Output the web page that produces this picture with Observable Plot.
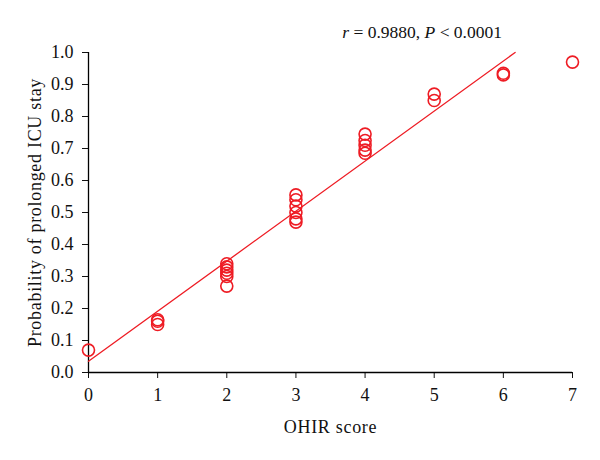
<!DOCTYPE html>
<html>
<head>
<meta charset="utf-8">
<script src="https://cdn.jsdelivr.net/npm/d3@7"></script>
<script src="https://cdn.jsdelivr.net/npm/@observablehq/plot@0.6"></script>
<style>
  html, body { margin: 0; padding: 0; background: #fff; }
  #chart { width: 600px; height: 460px; }
  #chart svg g[aria-label="x-axis label"] text,
  #chart svg g[aria-label="y-axis label"] text { letter-spacing: 0.7px; }
</style>
</head>
<body>
<div id="chart"></div>
<script>
// OHIR score and probability of prolonged ICU stay
const scores = [0, 1, 1, 1, 2, 2, 2, 2, 2, 2, 3, 3, 3, 3, 3, 3, 4, 4, 4, 4, 4, 5, 5, 6, 6, 7];
const probs  = [0.07, 0.15, 0.16, 0.165, 0.27, 0.30, 0.31, 0.32, 0.33, 0.34,
                0.47, 0.48, 0.50, 0.52, 0.54, 0.555, 0.685, 0.695, 0.71, 0.725, 0.745,
                0.85, 0.87, 0.93, 0.935, 0.97];
// regression line end points
const fitX = [0, 6.17];
const fitY = [0.035, 1.0];
const xTicks = [0, 1, 2, 3, 4, 5, 6, 7];
const yTicks = [0, 0.1, 0.2, 0.3, 0.4, 0.5, 0.6, 0.7, 0.8, 0.9, 1.0];

const points = scores.map((s, i) => ({x: s, y: probs[i]}));
const fit = fitX.map((x, i) => ({x, y: fitY[i]}));
const red = "#ee1c24";

const plot = Plot.plot({
  width: 600,
  height: 460,
  marginLeft: 88,
  marginRight: 28,
  marginTop: 52,
  marginBottom: 88,
  style: {fontFamily: "'Liberation Serif', 'DejaVu Serif', serif", fontSize: "18px", color: "#111", background: "#fff"},
  x: {domain: [0, 7]},
  y: {domain: [0, 1]},
  marks: [
    Plot.axisX({ticks: xTicks, tickSize: 6, tickPadding: 10, tickFormat: d3.format("d"),
      label: "OHIR score", labelAnchor: "center", labelArrow: "none", labelOffset: 60, fontSize: 18}),
    Plot.axisY({ticks: yTicks, tickSize: 6, tickPadding: 9, tickFormat: d3.format(".1f"),
      label: "Probability of prolonged ICU stay", labelAnchor: "center", labelArrow: "none", labelOffset: 60, fontSize: 18}),
    Plot.ruleX([0], {stroke: "#000", strokeWidth: 1.3}),
    Plot.ruleY([0], {stroke: "#000", strokeWidth: 1.3}),
    Plot.line(fit, {x: "x", y: "y", stroke: red, strokeWidth: 1.3}),
    Plot.dot(points, {x: "x", y: "y", r: 6, stroke: red, strokeWidth: 1.6, fill: "none"})
  ]
});

const svg = d3.select(plot);
const t = svg.append("text")
  .attr("x", 502).attr("y", 38)
  .attr("text-anchor", "end")
  .attr("font-family", "'Liberation Serif', 'DejaVu Serif', serif")
  .attr("font-size", 17.5)
  .attr("fill", "#111");
t.append("tspan").attr("font-style", "italic").text("r");
t.append("tspan").text(" = 0.9880, ");
t.append("tspan").attr("font-style", "italic").text("P");
t.append("tspan").text(" < 0.0001");

document.getElementById("chart").appendChild(plot);
</script>
</body>
</html>
